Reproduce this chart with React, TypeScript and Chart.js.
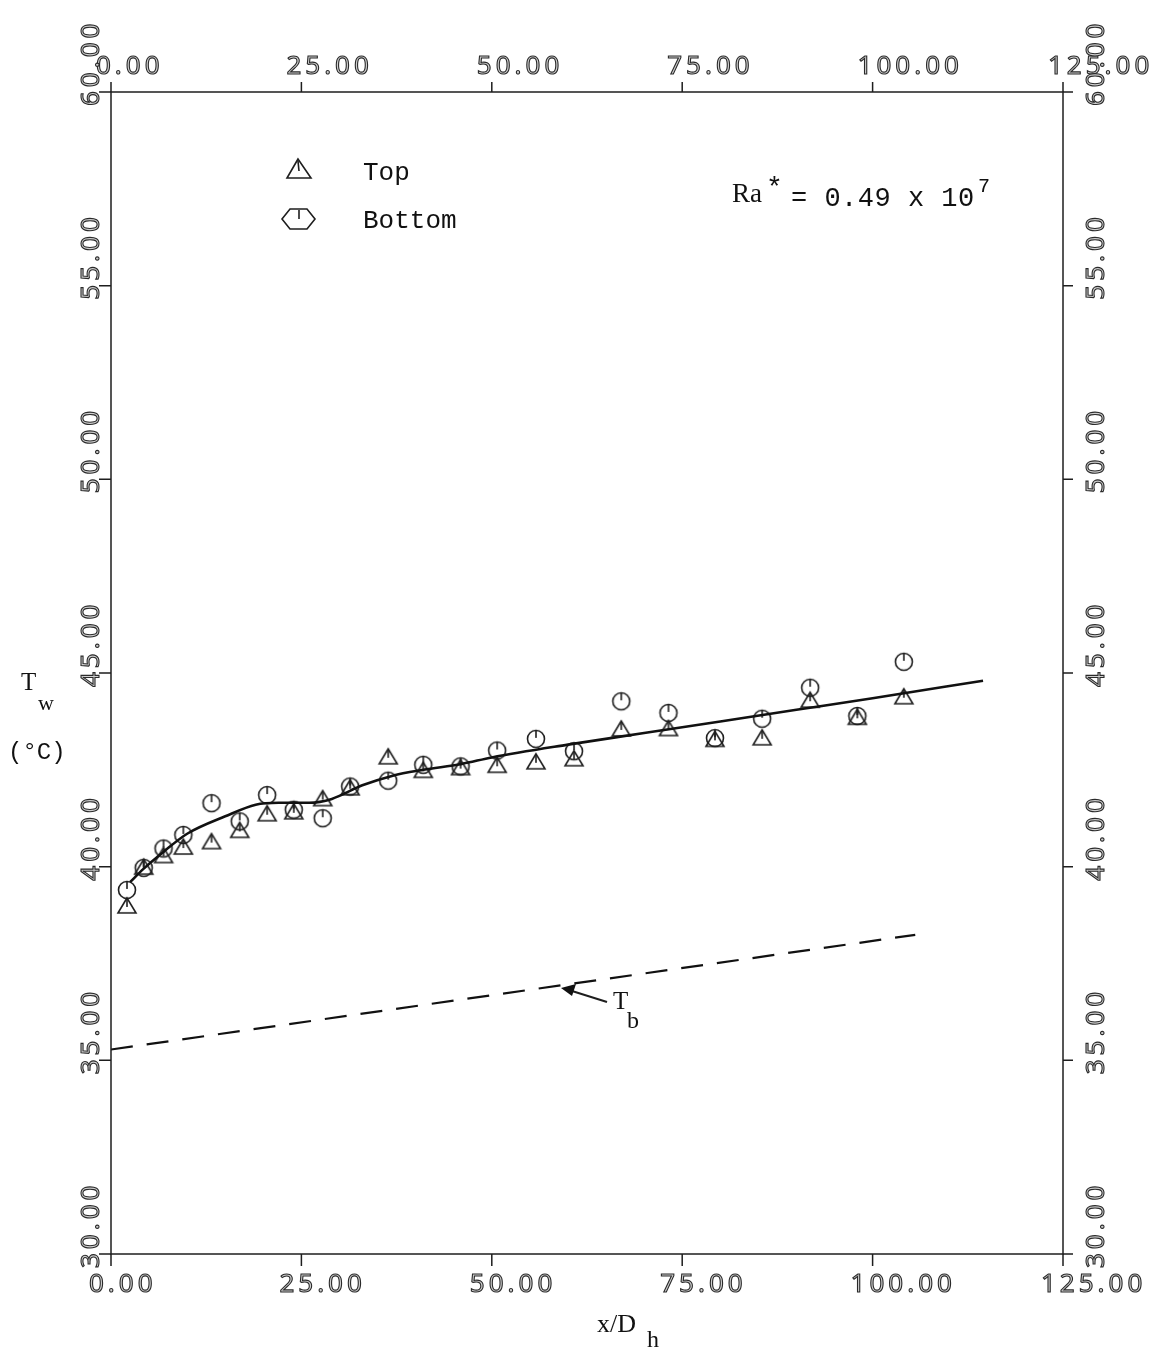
import React, { useEffect, useRef } from "react";
import { Chart, registerables } from "chart.js";

Chart.register(...registerables);

// ---- data ----
const xPositions = [2.1, 4.3, 6.9, 9.5, 13.2, 16.9, 20.5, 24.0, 27.8, 31.4, 36.4, 41.0, 45.9, 50.7, 55.8, 60.8, 67.0, 73.2, 79.3, 85.5, 91.8, 98.0, 104.1];
const topTemps = [39.0, 40.0, 40.3, 40.52, 40.66, 40.95, 41.38, 41.43, 41.77, 42.05, 42.85, 42.5, 42.57, 42.63, 42.72, 42.8, 43.57, 43.58, 43.3, 43.34, 44.31, 43.87, 44.4];
const bottomTemps = [39.4, 39.97, 40.47, 40.82, 41.64, 41.17, 41.85, 41.47, 41.25, 42.07, 42.22, 42.63, 42.59, 43.0, 43.3, 42.98, 44.27, 43.97, 43.32, 43.82, 44.62, 43.89, 45.29];
const fitX = [2.5, 4.3, 7, 10, 15, 19, 22, 26, 29, 33, 37, 41, 46, 50, 60, 70, 80, 90, 100, 114.5];
const fitY = [39.6, 39.95, 40.4, 40.85, 41.3, 41.6, 41.65, 41.65, 41.75, 42.1, 42.35, 42.5, 42.65, 42.82, 43.15, 43.45, 43.75, 44.05, 44.35, 44.8];
const bulkX = [0, 105.6];
const bulkY = [35.28, 38.24];
const xTicks = [0, 25, 50, 75, 100, 125];
const yTicks = [30, 35, 40, 45, 50, 55, 60];

const INK = "#1e1e1e";

function makeCircle(): HTMLCanvasElement {
  const c = document.createElement("canvas");
  c.width = 22; c.height = 22;
  const g = c.getContext("2d")!;
  g.strokeStyle = INK; g.lineWidth = 1.6;
  g.beginPath(); g.arc(11, 11, 8.5, 0, Math.PI * 2); g.stroke();
  g.beginPath(); g.moveTo(11, 3); g.lineTo(11, 10); g.stroke();
  return c;
}
function makeTriangle(): HTMLCanvasElement {
  const c = document.createElement("canvas");
  c.width = 22; c.height = 19;
  const g = c.getContext("2d")!;
  g.strokeStyle = INK; g.lineWidth = 1.6;
  g.beginPath(); g.moveTo(11, 2); g.lineTo(2, 17); g.lineTo(20, 17); g.closePath(); g.stroke();
  g.beginPath(); g.moveTo(11, 3); g.lineTo(11, 11); g.stroke();
  return c;
}

const framePlugin = {
  id: "frame",
  afterDraw(chart: any) {
    const ctx: CanvasRenderingContext2D = chart.ctx;
    const { left, right, top, bottom } = chart.chartArea;
    const xs = chart.scales.x;
    const ys = chart.scales.y;
    ctx.save();
    // frame
    ctx.strokeStyle = INK;
    ctx.lineWidth = 1.5;
    ctx.strokeRect(left, top, right - left, bottom - top);
    // ticks
    ctx.beginPath();
    xTicks.forEach((t) => {
      const p = xs.getPixelForValue(t);
      ctx.moveTo(p, bottom); ctx.lineTo(p, bottom + 12);
      ctx.moveTo(p, top); ctx.lineTo(p, top - 10);
    });
    yTicks.forEach((t) => {
      const p = ys.getPixelForValue(t);
      ctx.moveTo(left, p); ctx.lineTo(left - 12, p);
      ctx.moveTo(right, p); ctx.lineTo(right + 10, p);
    });
    ctx.stroke();

    // tick labels (plotter style)
    const labelFont = "26px 'Noto Sans'";
    const drawLabel = (s: string, x: number, y: number, rot: boolean) => {
      ctx.save();
      ctx.translate(x, y);
      if (rot) ctx.rotate(-Math.PI / 2);
      ctx.font = labelFont;
      (ctx as any).letterSpacing = "4px";
      ctx.textAlign = "left";
      ctx.textBaseline = "alphabetic";
      ctx.lineWidth = 1.1;
      ctx.strokeStyle = "#2a2a2a";
      ctx.fillStyle = "#cfcfcf";
      ctx.fillText(s, 0, 0);
      ctx.strokeText(s, 0, 0);
      ctx.restore();
    };
    xTicks.forEach((t) => {
      const p = xs.getPixelForValue(t);
      drawLabel(t.toFixed(2), p - 15, 74, false);
      drawLabel(t.toFixed(2), p - 22, 1292, false);
    });
    yTicks.forEach((t) => {
      const p = ys.getPixelForValue(t);
      drawLabel(t.toFixed(2), 99, p + 14, true);
      drawLabel(t.toFixed(2), 1104, p + 14, true);
    });

    // annotations
    ctx.fillStyle = "#111";
    ctx.strokeStyle = INK;
    // legend markers
    ctx.lineWidth = 1.6;
    ctx.beginPath();
    ctx.moveTo(298, 159); ctx.lineTo(287, 178); ctx.lineTo(311, 178); ctx.closePath();
    ctx.stroke();
    ctx.beginPath(); ctx.moveTo(298, 161); ctx.lineTo(299, 171); ctx.stroke();
    ctx.beginPath();
    ctx.moveTo(290, 209); ctx.lineTo(307, 209); ctx.lineTo(315, 219); ctx.lineTo(307, 229);
    ctx.lineTo(290, 229); ctx.lineTo(282, 219); ctx.closePath(); ctx.stroke();
    ctx.beginPath(); ctx.moveTo(299, 210); ctx.lineTo(299, 219); ctx.stroke();

    ctx.textAlign = "left";
    ctx.textBaseline = "alphabetic";
    ctx.font = "26px 'Liberation Mono'";
    ctx.fillText("Top", 363, 180);
    ctx.fillText("Bottom", 363, 228);

    // Ra* text
    ctx.font = "27px 'Liberation Serif'";
    ctx.fillText("Ra", 732, 202);
    ctx.font = "28px 'Liberation Mono'";
    ctx.fillText("*", 766, 196);
    ctx.font = "27px 'Liberation Mono'";
    (ctx as any).letterSpacing = "0.5px";
    ctx.fillText("= 0.49 x 10", 791, 206);
    (ctx as any).letterSpacing = "0px";
    ctx.font = "20px 'Liberation Mono'";
    ctx.fillText("7", 978, 192);

    // y label
    ctx.font = "25px 'Liberation Serif'";
    ctx.fillText("T", 21, 690);
    ctx.font = "22px 'Liberation Serif'";
    ctx.fillText("w", 38, 710);
    ctx.font = "24px 'Liberation Mono'";
    ctx.fillText("(°C)", 8, 759);

    // x label
    ctx.font = "26px 'Liberation Serif'";
    ctx.fillText("x/D", 597, 1332);
    ctx.font = "24px 'Liberation Serif'";
    ctx.fillText("h", 647, 1347);

    // Tb annotation
    ctx.lineWidth = 2;
    ctx.beginPath(); ctx.moveTo(607, 1002); ctx.lineTo(572, 991); ctx.stroke();
    ctx.beginPath();
    ctx.moveTo(561, 988); ctx.lineTo(576, 984); ctx.lineTo(572, 996); ctx.closePath(); ctx.fill();
    ctx.font = "25px 'Liberation Serif'";
    ctx.fillText("T", 613, 1009);
    ctx.font = "24px 'Liberation Serif'";
    ctx.fillText("b", 627, 1028);
    ctx.restore();
  },
};

export default function App() {
  const ref = useRef<HTMLCanvasElement | null>(null);
  useEffect(() => {
    if (!ref.current) return;
    const circle = makeCircle();
    const tri = makeTriangle();
    const chart = new Chart(ref.current, {
      type: "scatter",
      data: {
        datasets: [
          {
            label: "Fit",
            data: fitX.map((x, i) => ({ x, y: fitY[i] })),
            showLine: true,
            borderColor: "#111",
            borderWidth: 2.6,
            pointRadius: 0,
            cubicInterpolationMode: "monotone",
          },
          {
            label: "Tb",
            data: bulkX.map((x, i) => ({ x, y: bulkY[i] })),
            showLine: true,
            borderColor: "#111",
            borderWidth: 2.2,
            borderDash: [22, 14],
            pointRadius: 0,
          },
          {
            label: "Top",
            data: xPositions.map((x, i) => ({ x, y: topTemps[i] })),
            pointStyle: tri as any,
            pointRadius: 10,
          },
          {
            label: "Bottom",
            data: xPositions.map((x, i) => ({ x, y: bottomTemps[i] })),
            pointStyle: circle as any,
            pointRadius: 10,
          },
        ],
      },
      options: {
        animation: false,
        responsive: true,
        maintainAspectRatio: false,
        layout: { padding: { left: 111, right: 105, top: 92, bottom: 97 } },
        plugins: { legend: { display: false }, tooltip: { enabled: false } },
        scales: {
          x: { type: "linear", min: 0, max: 125, display: false },
          y: { type: "linear", min: 30, max: 60, display: false },
        },
      },
      plugins: [framePlugin],
    });
    return () => chart.destroy();
  }, []);
  return (
    <div style={{ position: "fixed", left: 0, top: 0, width: 1168, height: 1351, background: "#fff" }}>
      <canvas ref={ref} />
    </div>
  );
}
